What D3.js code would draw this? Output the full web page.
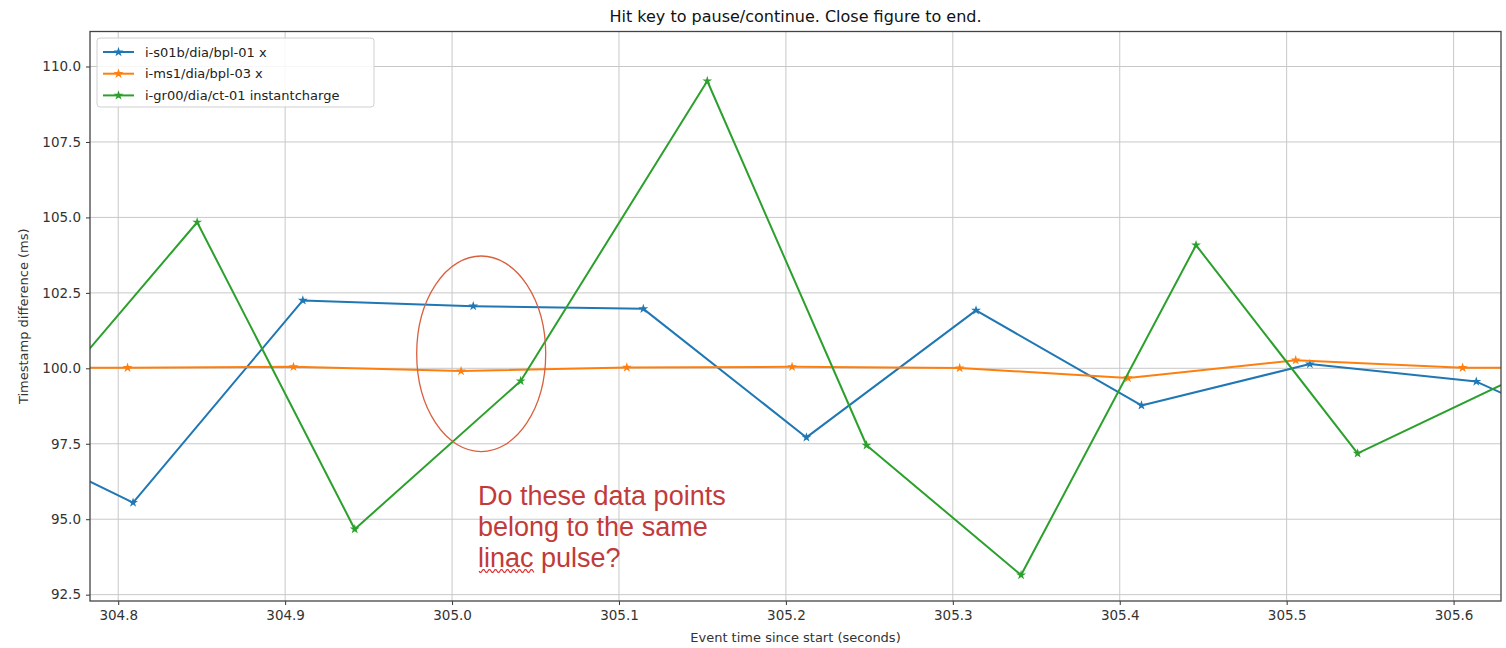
<!DOCTYPE html>
<html>
<head>
<meta charset="utf-8">
<script src="https://cdn.jsdelivr.net/npm/d3@7"></script>
<style>
  html, body { margin: 0; padding: 0; background: #fff; }
  svg { display: block; font-family: "DejaVu Sans", sans-serif; }
</style>
</head>
<body>
<div id="chart"></div>
<script>
// Event time (s) and timestamp difference (ms) for each channel
const seriesNames = ["i-s01b/dia/bpl-01 x", "i-ms1/dia/bpl-03 x", "i-gr00/dia/ct-01 instantcharge"];
const seriesColors = ["#1f77b4", "#ff7f0e", "#2ca02c"];

const s01bTime = [304.708, 304.8089, 304.9106, 305.0127, 305.1146, 305.2123, 305.3139, 305.413, 305.5139, 305.6136, 305.715];
const s01bDiff = [98.28, 95.55, 102.25, 102.06, 101.97, 97.71, 101.92, 98.77, 100.14, 99.56, 97.03];

const ms1Time = [304.7056, 304.8056, 304.905, 305.0054, 305.1047, 305.2037, 305.3041, 305.4049, 305.5054, 305.6054, 305.7054];
const ms1Diff = [100.02, 100.02, 100.05, 99.91, 100.03, 100.05, 100.01, 99.68, 100.27, 100.02, 100.02];

const gr00Time = [304.7483, 304.8473, 304.9417, 305.0411, 305.1529, 305.2483, 305.3409, 305.4457, 305.5425, 305.645];
const gr00Diff = [98.4, 104.84, 94.67, 99.58, 109.52, 97.45, 93.15, 104.08, 97.18, 99.88];

const xTicks = [304.8, 304.9, 305.0, 305.1, 305.2, 305.3, 305.4, 305.5, 305.6];
const yTicks = [92.5, 95.0, 97.5, 100.0, 102.5, 105.0, 107.5, 110.0];
const xDomain = [304.7831, 305.6284];
const yDomain = [92.29, 111.16];

const titleText = "Hit key to pause/continue. Close figure to end.";
const xLabel = "Event time since start (seconds)";
const yLabel = "Timestamp difference (ms)";
const noteLines = ["Do these data points", "belong to the same", "linac pulse?"];

const W = 1506, H = 648;
const margin = { top: 31.5, right: 5, bottom: 47, left: 90 };
const iw = W - margin.left - margin.right;
const ih = H - margin.top - margin.bottom;

const series = [
  { name: seriesNames[0], color: seriesColors[0], pts: s01bTime.map((t, i) => [t, s01bDiff[i]]) },
  { name: seriesNames[1], color: seriesColors[1], pts: ms1Time.map((t, i) => [t, ms1Diff[i]]) },
  { name: seriesNames[2], color: seriesColors[2], pts: gr00Time.map((t, i) => [t, gr00Diff[i]]) }
];

const svg = d3.select("#chart").append("svg").attr("width", W).attr("height", H);

const x = d3.scaleLinear().domain(xDomain).range([0, iw]);
const y = d3.scaleLinear().domain(yDomain).range([ih, 0]);

svg.append("defs").append("clipPath").attr("id", "plotClip")
  .append("rect").attr("x", 0).attr("y", 0).attr("width", iw).attr("height", ih);

const g = svg.append("g").attr("transform", `translate(${margin.left},${margin.top})`);

// grid
g.append("g").selectAll("line").data(xTicks).join("line")
  .attr("x1", d => x(d)).attr("x2", d => x(d)).attr("y1", 0).attr("y2", ih)
  .attr("stroke", "#c8c8c8").attr("stroke-width", 1);
g.append("g").selectAll("line").data(yTicks).join("line")
  .attr("y1", d => y(d)).attr("y2", d => y(d)).attr("x1", 0).attr("x2", iw)
  .attr("stroke", "#c8c8c8").attr("stroke-width", 1);

// axes
const xAxis = g.append("g").attr("transform", `translate(0,${ih})`)
  .call(d3.axisBottom(x).tickValues(xTicks).tickFormat(d3.format(".1f")).tickSize(4).tickPadding(5));
const yAxis = g.append("g")
  .call(d3.axisLeft(y).tickValues(yTicks).tickFormat(d3.format(".1f")).tickSize(4).tickPadding(5));
[xAxis, yAxis].forEach(a => {
  a.select(".domain").remove();
  a.selectAll("line").attr("stroke", "#333");
  a.selectAll("text").style("font-family", "DejaVu Sans").style("font-size", "13.5px").style("fill", "#333");
});

// lines + star markers
const line = d3.line().x(d => x(d[0])).y(d => y(d[1]));
const star = d3.symbol().type(d3.symbolStar).size(30);
const plot = g.append("g").attr("clip-path", "url(#plotClip)");
series.forEach(s => {
  plot.append("path").datum(s.pts).attr("d", line)
    .attr("fill", "none").attr("stroke", s.color).attr("stroke-width", 2).attr("stroke-linejoin", "round");
  plot.append("g").selectAll("path").data(s.pts).join("path")
    .attr("transform", d => `translate(${x(d[0])},${y(d[1])})`)
    .attr("d", star).attr("fill", s.color);
});

// frame
g.append("rect").attr("x", 0).attr("y", 0).attr("width", iw).attr("height", ih)
  .attr("fill", "none").attr("stroke", "#444").attr("stroke-width", 1.3);

// title and axis labels
svg.append("text").attr("x", margin.left + iw / 2).attr("y", 22).attr("text-anchor", "middle")
  .style("font-size", "16px").style("fill", "#111").text(titleText);
svg.append("text").attr("x", margin.left + iw / 2).attr("y", 642).attr("text-anchor", "middle")
  .style("font-size", "13px").style("fill", "#333").text(xLabel);
svg.append("text").attr("transform", `translate(28,${margin.top + ih / 2}) rotate(-90)`)
  .attr("text-anchor", "middle").style("font-size", "13px").style("fill", "#333").text(yLabel);

// legend
const lg = svg.append("g").attr("transform", "translate(97,38)");
lg.append("rect").attr("width", 277).attr("height", 69).attr("rx", 3)
  .attr("fill", "#fff").attr("fill-opacity", 0.85).attr("stroke", "#d0d0d0");
series.forEach((s, i) => {
  const yy = 14 + i * 21.7;
  lg.append("line").attr("x1", 6).attr("x2", 37).attr("y1", yy).attr("y2", yy)
    .attr("stroke", s.color).attr("stroke-width", 2);
  lg.append("path").attr("transform", `translate(21.5,${yy})`).attr("d", star).attr("fill", s.color);
  lg.append("text").attr("x", 48).attr("y", yy + 4.5).style("font-size", "13px").style("fill", "#222").text(s.name);
});

// hand-drawn annotation: ellipse around the points near 305.0 s and a question
svg.append("ellipse").attr("cx", 481.2).attr("cy", 353.8).attr("rx", 64.5).attr("ry", 97.8)
  .attr("fill", "none").attr("stroke", "#d9603f").attr("stroke-width", 1.3);
const note = svg.append("g");
noteLines.forEach((t, i) => {
  note.append("text").attr("x", 478).attr("y", 505 + i * 31)
    .style("font-family", "'Liberation Sans', Arial, sans-serif").style("font-size", "27px")
    .style("fill", "#c23b3b").text(t);
});
// squiggle under "linac"
const squiggle = d3.range(0, 56, 1).map(i => [479 + i, 571 + 1.6 * Math.sin(i * Math.PI / 3)]);
svg.append("path").attr("d", d3.line()(squiggle)).attr("fill", "none")
  .attr("stroke", "#d33").attr("stroke-width", 1.2);
</script>
</body>
</html>
